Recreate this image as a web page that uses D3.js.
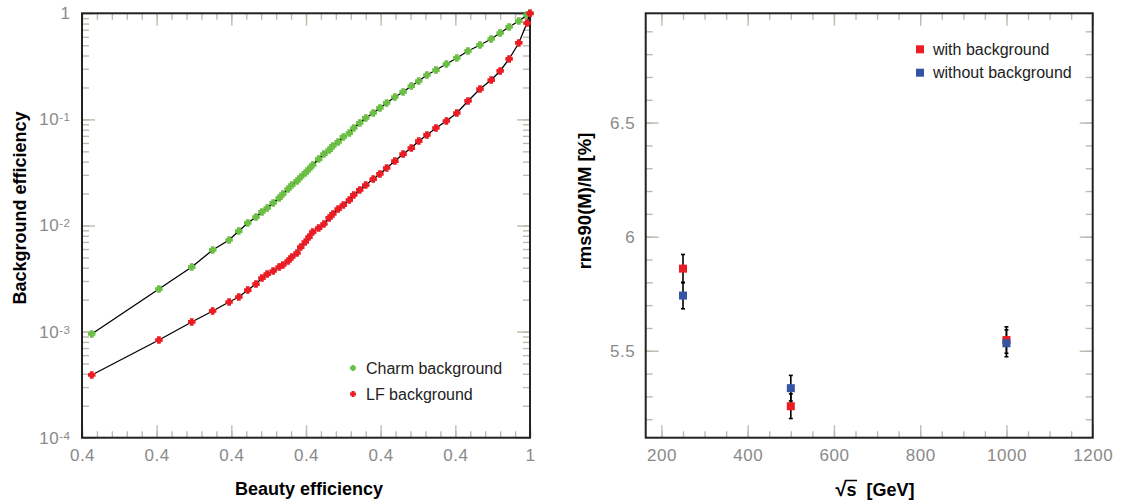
<!DOCTYPE html>
<html><head><meta charset="utf-8">
<script src="https://cdn.jsdelivr.net/npm/d3@7"></script>
<style>
body{margin:0;background:#fff;}
svg{display:block;font-family:"Liberation Sans",Arial,Helvetica,sans-serif;}
</style></head><body>
<svg id="c" width="1125" height="502"></svg>
<script>
// ---------- Left panel data ----------
const beautyEff = [0.413,0.503,0.547,0.575,0.597,0.610,0.622,0.633,0.641,0.648,0.656,0.664,0.669,0.676,0.681,0.688,0.693,0.699,0.704,0.709,0.717,0.724,0.731,0.736,0.743,0.750,0.758,0.764,0.772,0.780,0.790,0.799,0.808,0.819,0.830,0.841,0.851,0.862,0.874,0.888,0.902,0.917,0.933,0.948,0.960,0.972,0.985,0.996,1.000];
const charmEff = [0.00095,0.00252,0.00406,0.00588,0.0073,0.00887,0.01056,0.01202,0.01341,0.01462,0.0163,0.01816,0.01981,0.02208,0.02408,0.02627,0.02865,0.03126,0.03408,0.03717,0.04233,0.04719,0.05147,0.05615,0.06124,0.06826,0.07441,0.08297,0.0925,0.1031,0.1149,0.1281,0.1428,0.1626,0.1813,0.2064,0.2301,0.2621,0.2921,0.3328,0.3791,0.4413,0.5027,0.5725,0.6521,0.7429,0.846,0.9638,1.0];
const lfEff = [0.00039,0.000833,0.001232,0.001564,0.001901,0.002119,0.002466,0.002809,0.003199,0.00349,0.003725,0.004063,0.004243,0.004628,0.005048,0.005506,0.00627,0.00699,0.00779,0.00868,0.00947,0.01033,0.01177,0.01284,0.0143,0.0156,0.01739,0.01939,0.02161,0.02408,0.02743,0.03058,0.03483,0.04053,0.04719,0.05374,0.06257,0.07129,0.08297,0.09659,0.1149,0.1491,0.1934,0.2351,0.2859,0.371,0.525,0.8102,1.0];
const seriesNamesL = ["Charm background","LF background"];
const xTickValuesL = [0.4,0.5,0.6,0.7,0.8,0.9,1.0];
const xTickLabelsL = ["0.4","0.4","0.4","0.4","0.4","0.4","1"];
const yTickValuesL = [1e-4,1e-3,1e-2,1e-1,1];

// ---------- Right panel data ----------
const sqrtS = [250,500,1000];
const rmsWithBkg = [5.86,5.257,5.547];
const errWithBkg = [0.062,0.054,0.058];
const rmsNoBkg = [5.742,5.336,5.533];
const errNoBkg = [0.058,0.056,0.059];
const seriesNamesR = ["with background","without background"];
const xTickValuesR = [200,400,600,800,1000,1200];
const yTickValuesR = [5.5,6,6.5];
const yTickLabelsR = ["5.5","6","6.5"];

const GREEN="#6bbf45", RED="#ec1c24", BLUE="#3653a4";
const TICK="#bcbcae", LABEL="#8a8a8a";
const svg = d3.select("#c");

function styleAxis(g){
  g.select(".domain").remove();
  g.selectAll(".tick line").attr("stroke",TICK).attr("stroke-width",1.4);
  g.attr("font-family",null).attr("font-size",17);
  g.selectAll(".tick text").attr("fill",LABEL).attr("letter-spacing",0.5);
}

function frameAxes(xS, yS, xMaj, xMin, yMaj, yMin, xFmt, yFmt, yPad){
  const [x0,x1]=xS.range(), [yb,yt]=yS.range();
  const g=svg.append("g");
  g.append("g").attr("transform",`translate(0,${yb})`).call(d3.axisBottom(xS).tickValues(xMin).tickSize(-6.5).tickFormat("")).call(styleAxis);
  g.append("g").attr("transform",`translate(0,${yt})`).call(d3.axisTop(xS).tickValues(xMin).tickSize(-6.5).tickFormat("")).call(styleAxis);
  g.append("g").attr("transform",`translate(0,${yb})`).call(d3.axisBottom(xS).tickValues(xMaj).tickSizeInner(-12.5).tickSizeOuter(0).tickPadding(11.5).tickFormat(xFmt)).call(styleAxis);
  g.append("g").attr("transform",`translate(0,${yt})`).call(d3.axisTop(xS).tickValues(xMaj).tickSize(-12.5).tickFormat("")).call(styleAxis);
  g.append("g").attr("transform",`translate(${x0},0)`).call(d3.axisLeft(yS).tickValues(yMin).tickSize(-7).tickFormat("")).call(styleAxis);
  g.append("g").attr("transform",`translate(${x1},0)`).call(d3.axisRight(yS).tickValues(yMin).tickSize(-7).tickFormat("")).call(styleAxis);
  const yl=g.append("g").attr("transform",`translate(${x0},0)`).call(d3.axisLeft(yS).tickValues(yMaj).tickSizeInner(-13).tickSizeOuter(0).tickPadding(yPad).tickFormat(yFmt)).call(styleAxis);
  g.append("g").attr("transform",`translate(${x1},0)`).call(d3.axisRight(yS).tickValues(yMaj).tickSize(-13).tickFormat("")).call(styleAxis);
  svg.append("rect").attr("x",x0).attr("y",yt).attr("width",x1-x0).attr("height",yb-yt)
    .attr("fill","none").attr("stroke","#222").attr("stroke-width",2);
  return yl;
}

// thick cross marker (ROOT "full cross" look)
const thickCross = {draw(ctx,size){
  const r=Math.sqrt(size)/2, a=r*0.5;
  ctx.moveTo(-a,-r);ctx.lineTo(a,-r);ctx.lineTo(a,-a);ctx.lineTo(r,-a);ctx.lineTo(r,a);ctx.lineTo(a,a);
  ctx.lineTo(a,r);ctx.lineTo(-a,r);ctx.lineTo(-a,a);ctx.lineTo(-r,a);ctx.lineTo(-r,-a);ctx.lineTo(-a,-a);ctx.closePath();
}};

// ================= LEFT PANEL =================
const xL=d3.scaleLinear([0.4,1.0],[82,530]);
const yL=d3.scaleLog([1e-4,1],[437.7,13.3]);
const xMinL=d3.range(0,31).map(i=>0.4+i*0.02);
const yMinL=[];
[-4,-3,-2,-1].forEach(e=>{for(let k=1;k<=9;k++) yMinL.push(k*Math.pow(10,e));});
const ylAxis=frameAxes(xL,yL,xTickValuesL,xMinL,yTickValuesL,yMinL,(d,i)=>xTickLabelsL[i],()=>"",11.5);
ylAxis.selectAll(".tick text").each(function(d){
  const t=d3.select(this); const e=Math.round(Math.log10(d));
  t.text("");
  if(e===0){t.text("1");}
  else{
    t.append("tspan").text("10");
    t.append("tspan").attr("font-size",11.5).attr("dy",-4).text("-"+Math.abs(e));
  }
});

const line=d3.line().x(d=>xL(d[0])).y(d=>yL(d[1]));
const sym=d3.symbol(thickCross,56);
[[charmEff,GREEN],[lfEff,RED]].forEach(([ys,col])=>{
  const pts=beautyEff.map((b,i)=>[b,ys[i]]);
  svg.append("path").datum(pts).attr("d",line).attr("fill","none").attr("stroke","#000").attr("stroke-width",1.3);
  svg.append("g").selectAll("path").data(pts).enter().append("path")
    .attr("d",sym).attr("transform",d=>`translate(${xL(d[0])},${yL(d[1])})`).attr("fill",col);
});
// legend
const legL=svg.append("g");
[[seriesNamesL[0],GREEN,368],[seriesNamesL[1],RED,394]].forEach(([n,c,y])=>{
  legL.append("path").attr("d",d3.symbol(thickCross,36)).attr("transform",`translate(353,${y})`).attr("fill",c);
  legL.append("text").attr("x",366).attr("y",y+6).attr("font-size",16).attr("fill","#222").text(n);
});
// titles
svg.append("text").attr("x",309).attr("y",495).attr("text-anchor","middle").attr("font-weight","bold").attr("font-size",18).text("Beauty efficiency");
svg.append("text").attr("transform","translate(26,208) rotate(-90)").attr("text-anchor","middle").attr("font-weight","bold").attr("font-size",18).text("Background efficiency");

// ================= RIGHT PANEL =================
const xR=d3.scaleLinear([163.5,1200],[645.7,1092.7]);
const yR=d3.scaleLinear([5.119,6.979],[437.7,13.3]);
const xMinR=d3.range(200,1201,50);
const yMinR=d3.range(52,70).map(v=>v/10);
frameAxes(xR,yR,xTickValuesR,xMinR,yTickValuesR,yMinR,d=>d,(d,i)=>yTickLabelsR[i],10.5);

const errG=svg.append("g");
[[rmsWithBkg,errWithBkg],[rmsNoBkg,errNoBkg]].forEach(([v,e])=>{
  sqrtS.forEach((s,i)=>{
    const x=xR(s), y1=yR(v[i]-e[i]), y2=yR(v[i]+e[i]);
    errG.append("line").attr("x1",x).attr("x2",x).attr("y1",y1).attr("y2",y2).attr("stroke","#000").attr("stroke-width",1.6);
    [y1,y2].forEach(y=>errG.append("line").attr("x1",x-2).attr("x2",x+2).attr("y1",y).attr("y2",y).attr("stroke","#000").attr("stroke-width",1.6));
  });
});
[[rmsWithBkg,RED],[rmsNoBkg,BLUE]].forEach(([v,c])=>{
  svg.append("g").selectAll("rect").data(sqrtS.map((s,i)=>[s,v[i]])).enter().append("rect")
    .attr("x",d=>xR(d[0])-4).attr("y",d=>yR(d[1])-4).attr("width",8).attr("height",8).attr("fill",c);
});
const legR=svg.append("g");
[[seriesNamesR[0],RED,49.3],[seriesNamesR[1],BLUE,72.7]].forEach(([n,c,y])=>{
  legR.append("rect").attr("x",916).attr("y",y-4).attr("width",8).attr("height",8).attr("fill",c);
  legR.append("text").attr("x",933).attr("y",y+5.5).attr("font-size",16).attr("fill","#222").text(n);
});
const xt=svg.append("text").attr("x",875).attr("y",496).attr("text-anchor","middle").attr("font-weight","bold").attr("font-size",18).attr("xml:space","preserve");
xt.append("tspan").attr("font-size",20).text("\u221A");
xt.append("tspan").text("s  [GeV]");
// overline of the square root over "s"
{
  const node=xt.node();
  const r=node.getExtentOfChar(0), s=node.getExtentOfChar(1);
  svg.append("line").attr("x1",r.x+r.width-1.5).attr("x2",s.x+s.width+0.5).attr("y1",r.y+2.5).attr("y2",r.y+2.5)
    .attr("stroke","#000").attr("stroke-width",1.5);
}
svg.append("text").attr("transform","translate(591,201) rotate(-90)").attr("text-anchor","middle").attr("font-weight","bold").attr("font-size",18.5).text("rms90(M)/M [%]");
</script>
</body></html>
